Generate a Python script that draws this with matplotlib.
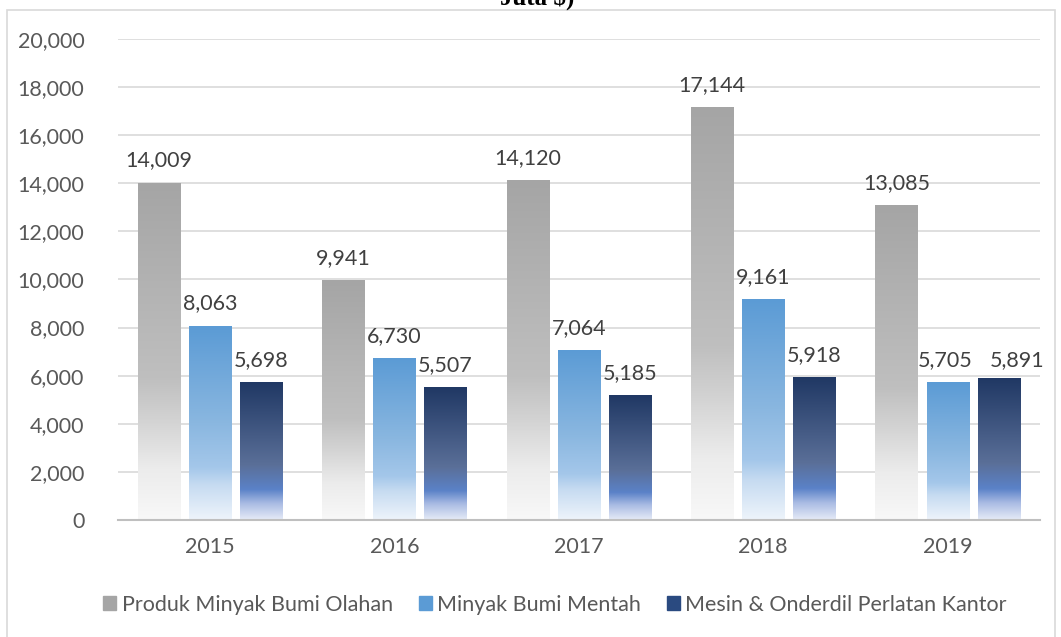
import numpy as np
import matplotlib.pyplot as plt
from matplotlib.colors import LinearSegmentedColormap
from matplotlib.patches import Rectangle

years = ['2015', '2016', '2017', '2018', '2019']
series_names = ['Produk Minyak Bumi Olahan', 'Minyak Bumi Mentah', 'Mesin & Onderdil Perlatan Kantor']
olahan = [14009, 9941, 14120, 17144, 13085]
mentah = [8063, 6730, 7064, 9161, 5705]
mesin = [5698, 5507, 5185, 5918, 5891]
values = [olahan, mentah, mesin]

# gradient stops per series, 0 = bottom of the bar, 1 = top
grads = [
    [(0.0, '#f8f8f8'), (0.15, '#ececec'), (0.3, '#d2d2d2'), (0.42, '#bfbfbf'), (1.0, '#a5a5a5')],
    [(0.0, '#eef4fb'), (0.18, '#c6dbf1'), (0.27, '#a4c7ea'), (0.5, '#8ab7e0'), (1.0, '#5b9bd5')],
    [(0.0, '#e6ebf7'), (0.12, '#a9bbe3'), (0.22, '#5b82c8'), (0.4, '#5a6f98'), (1.0, '#203864')],
]
legend_colors = ['#a5a5a5', '#5b9bd5', '#2a4a80']

# labels that were pushed apart in the original (series, year) -> offset in points
nudge = {(1, 4): (-2, 0), (2, 4): (13, -3)}

plt.rcParams['font.family'] = ['Lato', 'DejaVu Sans']
fig = plt.figure(figsize=(10.61, 6.37), dpi=100)
ax = fig.add_axes([0.111, 0.1837, 0.869, 0.7551])

x = np.arange(len(years))
width = 0.228
step = 0.277
cmaps = [LinearSegmentedColormap.from_list('g%d' % i, g) for i, g in enumerate(grads)]
ramp = np.linspace(0, 1, 256).reshape(-1, 1)

for i, vals in enumerate(values):
    bars = ax.bar(x + (i - 1) * step, vals, width, color='none', edgecolor='none', label=series_names[i])
    for j, (b, v) in enumerate(zip(bars, vals)):
        x0 = b.get_x()
        ax.imshow(ramp, extent=[x0, x0 + b.get_width(), 0, v], origin='lower',
                  aspect='auto', cmap=cmaps[i], zorder=2)
        dx, dy = nudge.get((i, j), (0, 0))
        ax.annotate('{:,}'.format(v), (b.get_x() + b.get_width() / 2, v),
                    xytext=(dx, 9 + dy), textcoords='offset points', ha='center', va='bottom',
                    fontsize=15.5, color='#404040')

ax.set_xlim(-0.5, len(years) - 0.5)
ax.set_ylim(0, 20000)
ax.set_yticks(range(0, 20001, 2000))
ax.set_yticklabels(['{:,}'.format(t) for t in range(0, 20001, 2000)])
ax.set_xticks(x)
ax.set_xticklabels(years)
ax.tick_params(axis='both', length=0, labelsize=15.5, labelcolor='#595959')
ax.tick_params(axis='y', pad=24)
ax.tick_params(axis='x', pad=12)
ax.grid(axis='y', color='#d9d9d9', linewidth=1.2)
ax.set_axisbelow(True)
for s in ['top', 'right', 'left']:
    ax.spines[s].set_visible(False)
ax.spines['bottom'].set_color('#bfbfbf')
ax.spines['bottom'].set_linewidth(1.5)

handles = [Rectangle((0, 0), 1, 1, color=c) for c in legend_colors]
fig.legend(handles, series_names, loc='center', bbox_to_anchor=(0.523, 0.051), ncol=3,
           frameon=False, fontsize=15.5, labelcolor='#595959', handlelength=0.6,
           handleheight=0.6, handletextpad=0.25, columnspacing=1.2)

# outer chart frame
fig.patches.append(Rectangle((7 / 1061, -0.01), 1048 / 1061, 1 - 10 / 637 + 0.01,
                             transform=fig.transFigure, fill=False, edgecolor='#d9d9d9', linewidth=1.2))
# clipped title from the source page
fig.text(0.506, 1 - 5 / 637, 'Juta $)', ha='center', va='baseline', fontsize=18,
         fontweight='bold', family='Liberation Serif', color='black')

fig.savefig('out.png', dpi=100)
